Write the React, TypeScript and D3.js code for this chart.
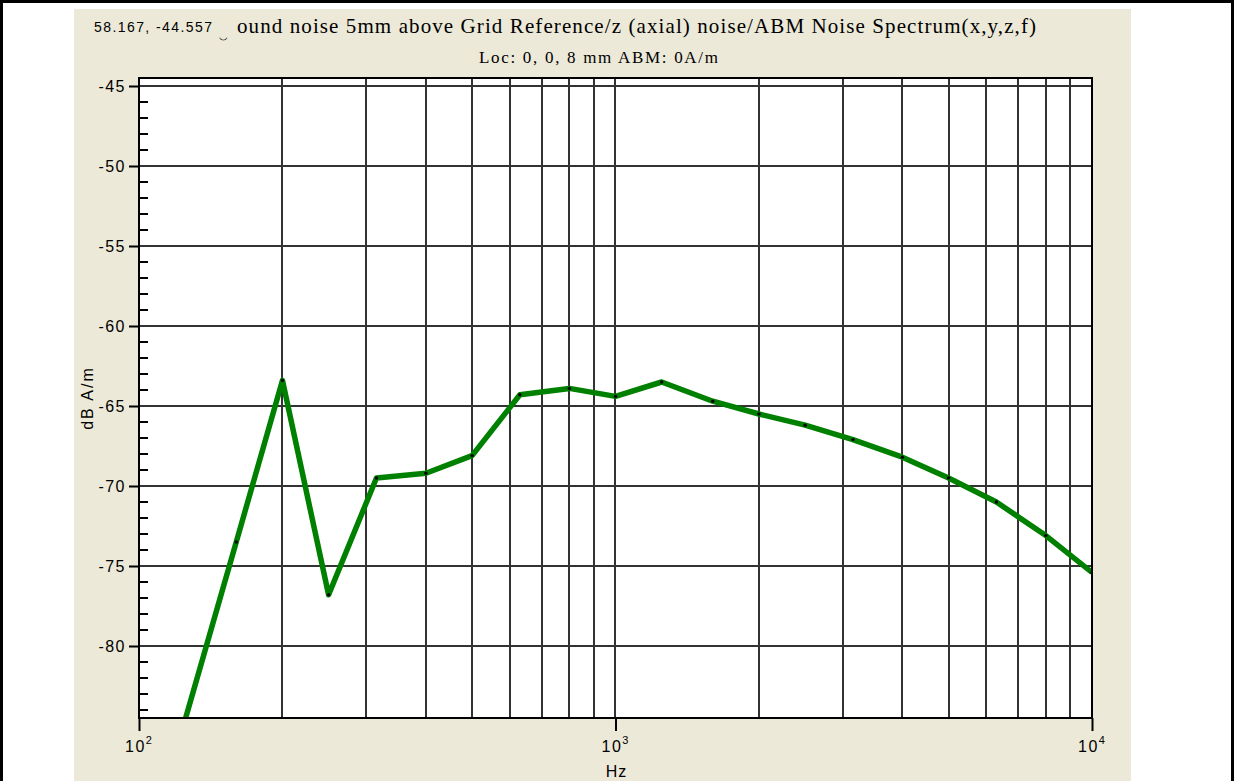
import React, { useRef, useEffect } from 'react';
import { select, scaleLog, scaleLinear, axisLeft, axisBottom, line, range } from 'd3';

// 1/3 octave bands and level
const freqs = [125, 160, 200, 250, 315, 400, 500, 630, 800, 1000, 1250, 1600, 2000, 2500, 3150, 4000, 5000, 6300, 8000, 10000];
const levels = [-84.6, -73.5, -63.4, -76.8, -69.5, -69.2, -68.1, -64.3, -63.9, -64.4, -63.5, -64.7, -65.5, -66.2, -67.1, -68.2, -69.5, -71.0, -73.1, -75.4];

const yMajorTicks = [-80, -75, -70, -65, -60, -55, -50, -45];
const xMajorTicks = [100, 1000, 10000];
const xGridTicks = [200, 300, 400, 500, 600, 700, 800, 900, 1000, 2000, 3000, 4000, 5000, 6000, 7000, 8000, 9000];
const xExponents = ['2', '3', '4'];

const cursorText = '58.167, -44.557';
const titleText = 'ound noise 5mm above Grid Reference/z (axial) noise/ABM Noise Spectrum(x,y,z,f)';
const subtitleText = 'Loc: 0, 0, 8 mm ABM: 0A/m';
const yLabel = 'dB A/m';
const xLabel = 'Hz';

const W = 1235;
const H = 781;
const left = 139;
const right = 1092;
const top = 78;
const bottom = 718;
const sans = '"Liberation Sans", Arial, sans-serif';
const serif = '"Liberation Serif", "Times New Roman", serif';

const App = () => {
  const svgRef = useRef(null);

  useEffect(() => {
    const svg = select(svgRef.current);
    svg.selectAll('*').remove();

    const xScale = scaleLog().domain([100, 10000]).range([left, right]);
    const yScale = scaleLinear().domain([-84.5, -44.5]).range([bottom, top]);

    // page + beige panel
    svg.append('rect').attr('width', W).attr('height', H).attr('fill', '#fff');
    svg.append('rect').attr('x', 74).attr('y', 9).attr('width', 1131 - 74).attr('height', H - 9).attr('fill', '#ece9d8');
    svg.append('rect').attr('x', 1.5).attr('y', 1.5).attr('width', 1231).attr('height', H + 10)
      .attr('fill', 'none').attr('stroke', '#000').attr('stroke-width', 3);

    // titles
    svg.append('text').attr('x', 94).attr('y', 32).attr('font-family', sans).attr('font-size', 14)
      .attr('textLength', 118).attr('lengthAdjust', 'spacing').text(cursorText);
    svg.append('text').attr('x', 219).attr('y', 37).attr('font-family', sans).attr('font-size', 14).text('\u203f');
    svg.append('text').attr('x', 237).attr('y', 33).attr('font-family', serif).attr('font-size', 21)
      .attr('textLength', 1036 - 237).attr('lengthAdjust', 'spacing').text(titleText);
    svg.append('text').attr('x', 479).attr('y', 63).attr('font-family', serif)
      .attr('font-size', 17).attr('textLength', 239).attr('lengthAdjust', 'spacing').text(subtitleText);

    // plot background
    svg.append('rect').attr('x', left).attr('y', top).attr('width', right - left).attr('height', bottom - top).attr('fill', '#fff');

    // grid
    const grid = svg.append('g').attr('stroke', '#333').attr('stroke-width', 2);
    grid.selectAll('.vg').data(xGridTicks).join('line').attr('class', 'vg')
      .attr('x1', (d) => Math.round(xScale(d))).attr('x2', (d) => Math.round(xScale(d)))
      .attr('y1', top).attr('y2', bottom);
    grid.selectAll('.hg').data(yMajorTicks).join('line').attr('class', 'hg')
      .attr('x1', left).attr('x2', right)
      .attr('y1', (d) => yScale(d)).attr('y2', (d) => yScale(d));

    // minor y ticks inside the frame
    const minor = range(-84, -44, 1).filter((v) => v % 5 !== 0);
    svg.append('g').attr('stroke', '#000').attr('stroke-width', 2)
      .selectAll('line').data(minor).join('line')
      .attr('x1', left).attr('x2', left + 9)
      .attr('y1', (d) => yScale(d)).attr('y2', (d) => yScale(d));

    // series
    const clipId = 'plot-clip';
    svg.append('clipPath').attr('id', clipId).append('rect')
      .attr('x', left).attr('y', top).attr('width', right - left).attr('height', bottom - top);
    const pts = freqs.map((f, i) => [f, levels[i]]);
    const myLine = line()
      .x((d) => xScale(d[0]))
      .y((d) => yScale(d[1]));
    const series = svg.append('g').attr('clip-path', `url(#${clipId})`);
    series.append('path').datum(pts)
      // @ts-ignore
      .attr('d', myLine)
      .attr('fill', 'none').attr('stroke', '#008000').attr('stroke-width', 5.5)
      .attr('stroke-linejoin', 'round');
    series.selectAll('circle').data(pts).join('circle')
      .attr('cx', (d) => xScale(d[0])).attr('cy', (d) => yScale(d[1])).attr('r', 1.7).attr('fill', '#000');

    // frame
    svg.append('rect').attr('x', left).attr('y', top).attr('width', right - left).attr('height', bottom - top)
      .attr('fill', 'none').attr('stroke', '#000').attr('stroke-width', 2);

    // y axis
    const yAxis = axisLeft(yScale).tickValues(yMajorTicks).tickSize(10).tickPadding(3)
      // @ts-ignore
      .tickFormat((d) => String(d));
    const yg = svg.append('g').attr('transform', `translate(${left},0)`)
      // @ts-ignore
      .call(yAxis);
    yg.select('.domain').remove();
    yg.selectAll('line').attr('stroke', '#000').attr('stroke-width', 2);
    yg.selectAll('text').attr('font-family', sans).attr('font-size', 16).attr('letter-spacing', 1.5)
      .attr('fill', '#000');

    // x axis
    const xAxis = axisBottom(xScale).tickValues(xMajorTicks).tickSize(13).tickPadding(3)
      // @ts-ignore
      .tickFormat(() => '');
    const xg = svg.append('g').attr('transform', `translate(0,${bottom})`)
      // @ts-ignore
      .call(xAxis);
    xg.select('.domain').remove();
    xg.selectAll('line').attr('stroke', '#000').attr('stroke-width', 2);
    xg.selectAll('text').remove();
    const xl = svg.append('g').selectAll('text').data(xMajorTicks).join('text')
      .attr('x', (d) => xScale(d) - 14).attr('y', 752)
      .attr('font-family', sans).attr('font-size', 16).attr('letter-spacing', 1.5);
    xl.append('tspan').text('10');
    xl.append('tspan').attr('font-size', 11).attr('dy', -8).attr('letter-spacing', 0)
      .text((d, i) => xExponents[i]);

    // axis titles
    svg.append('text').attr('x', xScale(1000) + 1).attr('y', 777).attr('text-anchor', 'middle')
      .attr('font-family', sans).attr('font-size', 16).attr('letter-spacing', 1).text(xLabel);
    svg.append('text').attr('transform', `translate(93,${398}) rotate(-90)`).attr('text-anchor', 'middle')
      .attr('font-family', sans).attr('font-size', 16).attr('letter-spacing', 2).text(yLabel);
  }, []);

  return (
    <div style={{ position: 'absolute', left: 0, top: 0 }}>
      <svg ref={svgRef} width={W} height={H} style={{ display: 'block' }} />
    </div>
  );
};

export default App;
